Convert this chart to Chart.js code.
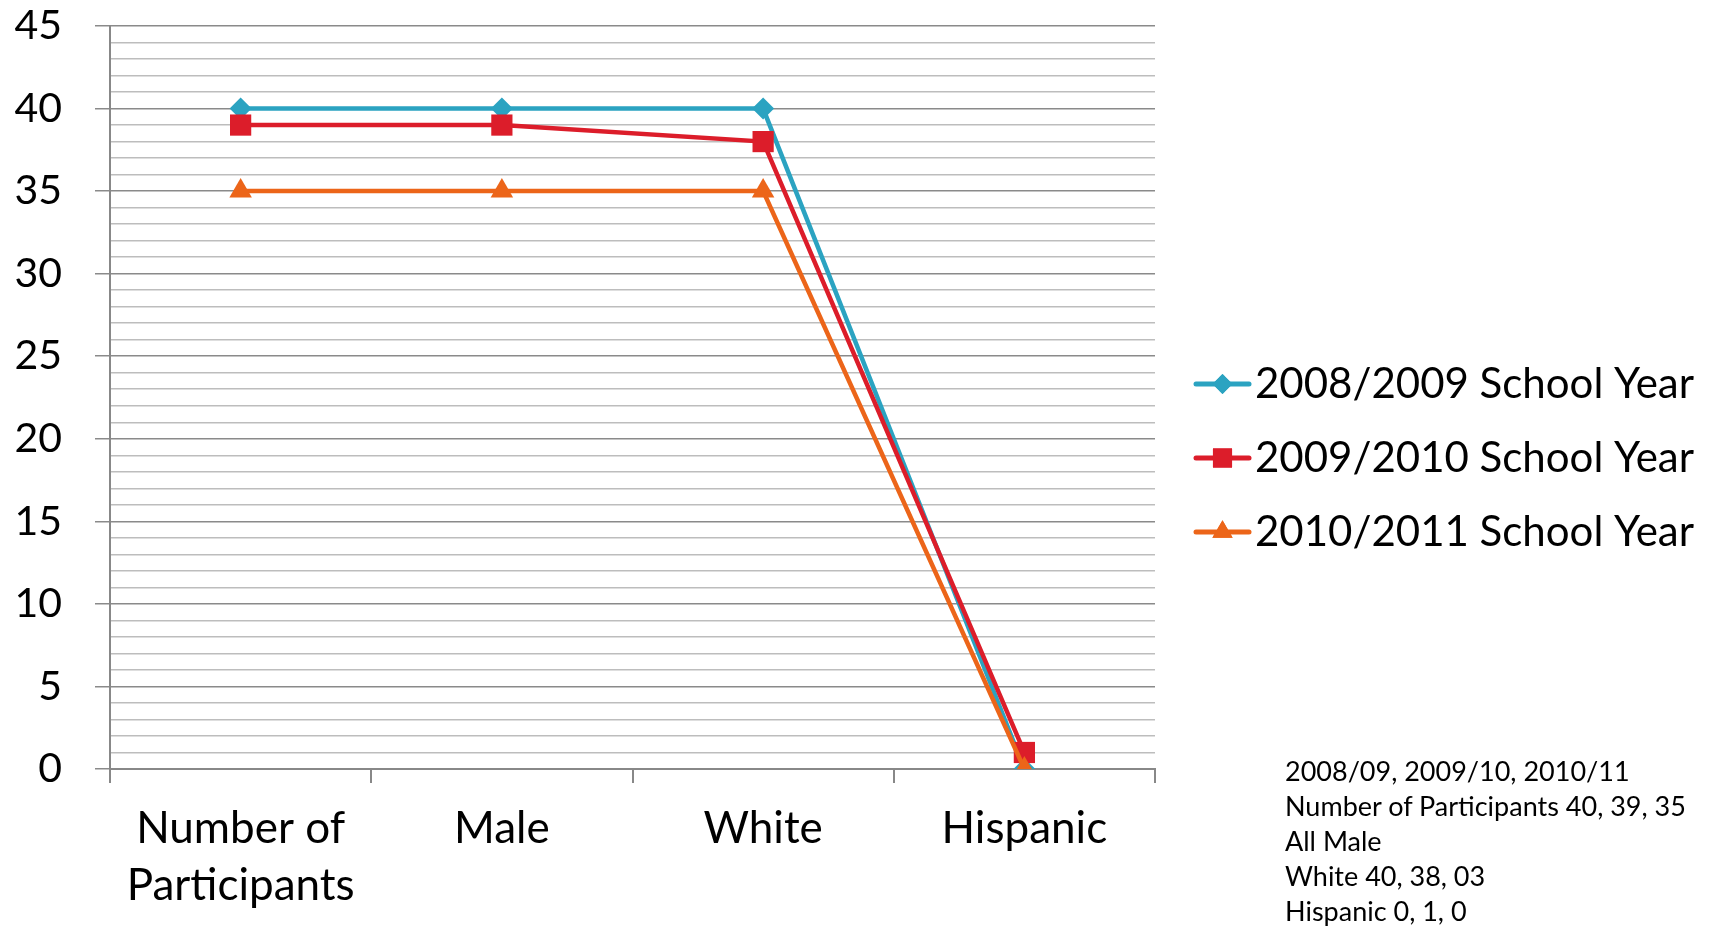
<!DOCTYPE html>
<html>
<head>
<meta charset="utf-8">
<script src="https://cdn.jsdelivr.net/npm/chart.js@4/dist/chart.umd.min.js"></script>
<style>
  html, body { margin: 0; padding: 0; background: #fff; }
  #wrap { position: relative; width: 1715px; height: 928px; }
  #c { position: absolute; left: 0; top: 0; }
  #note { position: absolute; left: 1285px; top: 753px; font-family: Lato, "Open Sans", sans-serif;
          font-size: 27px; line-height: 35px; color: #000; white-space: nowrap; }
</style>
</head>
<body>
<div id="wrap">
  <canvas id="c" width="1715" height="928"></canvas>
  <div id="note">
    <div>2008/09, 2009/10, 2010/11</div>
    <div>Number of Participants 40, 39, 35</div>
    <div>All Male</div>
    <div>White 40, 38, 03</div>
    <div>Hispanic 0, 1, 0</div>
  </div>
</div>
<script>
const categories = [["Number of", "Participants"], "Male", "White", "Hispanic"];
const seriesNames = ["2008/2009 School Year", "2009/2010 School Year", "2010/2011 School Year"];
const values2008 = [40, 40, 40, 0];
const values2009 = [39, 39, 38, 1];
const values2010 = [35, 35, 35, 0];
const yMin = 0, yMax = 45, yMajorStep = 5, yMinorStep = 1;

const FONT = 'Lato, "Open Sans", sans-serif';
const colors = ['#2BA3C1', '#DC1D2A', '#EC6519'];
const styles = ['rectRot', 'rect', 'triangle'];
const radii = [11, 15, 13];

const datasets = [values2008, values2009, values2010].map((vals, i) => ({
  label: seriesNames[i],
  data: vals,
  borderColor: colors[i],
  backgroundColor: colors[i],
  borderWidth: 4.5,
  pointStyle: styles[i],
  pointRadius: radii[i],
  pointHoverRadius: radii[i],
  pointBorderWidth: 0,
  pointBackgroundColor: colors[i],
  pointBorderColor: colors[i],
  tension: 0,
  order: 3 - i
}));

const customLegend = {
  id: 'customLegend',
  afterDraw(chart) {
    const ctx = chart.ctx;
    const x0 = 1196, x1 = 1249, tx = 1255;
    const ys = [384, 458, 532];
    ctx.save();
    chart.data.datasets.forEach((ds, i) => {
      const y = ys[i];
      ctx.strokeStyle = ds.borderColor;
      ctx.lineWidth = 5;
      ctx.lineCap = 'round';
      ctx.beginPath();
      ctx.moveTo(x0, y);
      ctx.lineTo(x1, y);
      ctx.stroke();
      ctx.fillStyle = ds.backgroundColor;
      Chart.helpers.drawPoint(ctx, { pointStyle: ds.pointStyle, radius: ds.pointRadius * 0.9, borderWidth: 0, rotation: 0 }, (x0 + x1) / 2, y);
      ctx.fill();
      ctx.fillStyle = '#000';
      ctx.font = '42px ' + FONT;
      ctx.textBaseline = 'middle';
      ctx.textAlign = 'left';
      ctx.fillText(ds.label, tx, y);
    });
    ctx.restore();
  }
};

new Chart(document.getElementById('c'), {
  type: 'line',
  data: { labels: categories, datasets },
  options: {
    responsive: false,
    animation: false,
    devicePixelRatio: 1,
    layout: { padding: { top: 26, right: 560, left: 0, bottom: 0 } },
    plugins: { legend: { display: false }, tooltip: { enabled: false } },
    scales: {
      x: {
        offset: true,
        grid: { display: true, drawOnChartArea: false, drawTicks: true, tickLength: 14, offset: true, color: '#888', lineWidth: 2 },
        border: { display: true, color: '#888', width: 2 },
        ticks: { color: '#000', font: { family: FONT, size: 44, lineHeight: 1.3 }, padding: 17, maxRotation: 0, autoSkip: false },
        afterFit(scale) { scale.height = 159; }
      },
      y: {
        min: yMin, max: yMax,
        grid: {
          color: c => (c.tick && c.tick.value % yMajorStep === 0) ? '#8a8a8a' : '#bdbdbd',
          tickColor: c => (c.tick && c.tick.value % yMajorStep === 0) ? '#8a8a8a' : 'rgba(0,0,0,0)',
          lineWidth: 1.5,
          tickLength: 15,
          drawTicks: true
        },
        border: { display: true, color: '#888', width: 2 },
        ticks: {
          stepSize: yMinorStep,
          autoSkip: false,
          color: '#000',
          padding: 33,
          font: { family: FONT, size: 41 },
          callback: v => (v % yMajorStep === 0 ? String(v) : '')
        },
        afterFit(scale) { scale.width = 110; scale.paddingTop = 0; scale.paddingBottom = 0; }
      }
    }
  },
  plugins: [customLegend]
});
</script>
</body>
</html>
